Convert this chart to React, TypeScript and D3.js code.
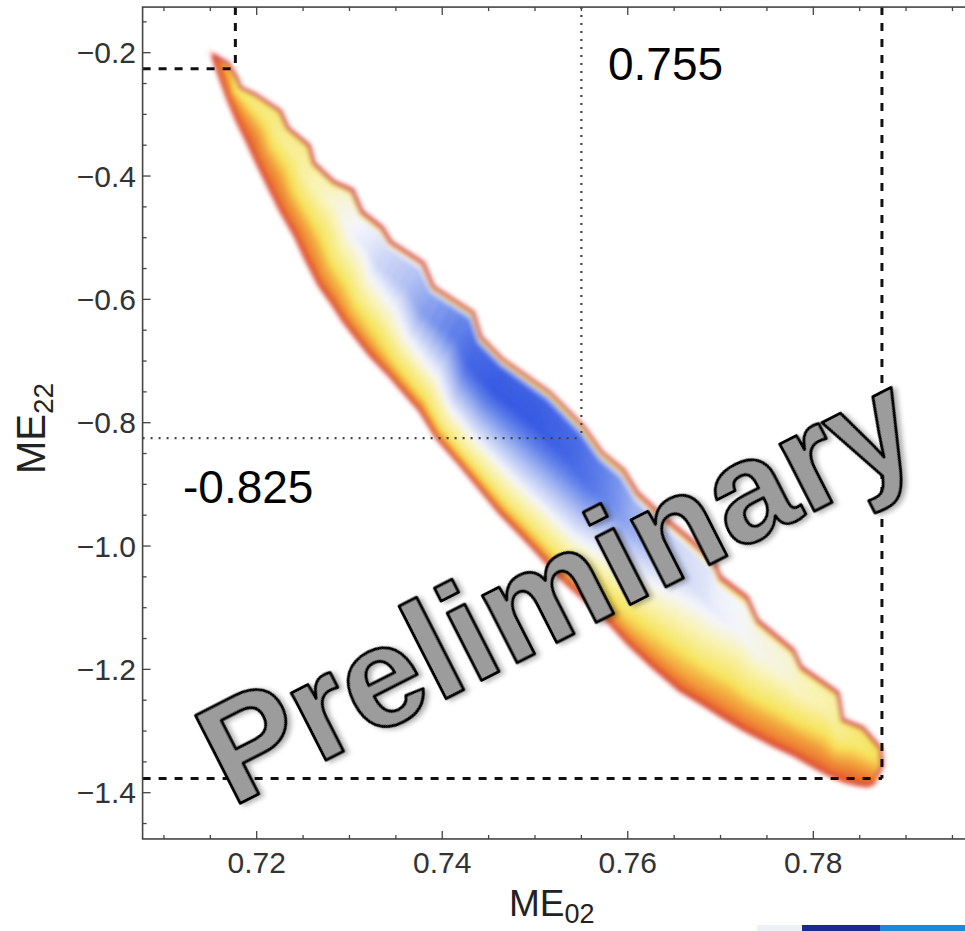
import React from "react";
import * as d3 from "d3";

const width = 965;
const height = 931;

// axis ticks
const xTicks = [0.72, 0.74, 0.76, 0.78];
const xTickLabels = ["0.72", "0.74", "0.76", "0.78"];
const yTicks = [-1.4, -1.2, -1.0, -0.8, -0.6, -0.4, -0.2];
const yTickLabels = ["−1.4", "−1.2", "−1.0", "−0.8", "−0.6", "−0.4", "−0.2"];

// allowed region: paired points on the upper and lower edge of the band
const upperME02 = [0.7153, 0.7169, 0.7178, 0.7182, 0.7199, 0.7225, 0.7233, 0.7256, 0.7261, 0.7283, 0.7303, 0.7313, 0.7335, 0.7344, 0.7379, 0.739, 0.7433, 0.7441, 0.7465, 0.7516, 0.7552, 0.7572, 0.7595, 0.761, 0.7642, 0.7664, 0.7692, 0.7699, 0.7728, 0.7739, 0.7778, 0.7786, 0.7826, 0.7831, 0.7853, 0.7872, 0.7874, 0.7868];
const upperME22 = [-0.204, -0.218, -0.241, -0.257, -0.269, -0.295, -0.322, -0.351, -0.379, -0.41, -0.423, -0.458, -0.484, -0.507, -0.541, -0.58, -0.622, -0.661, -0.698, -0.752, -0.807, -0.849, -0.877, -0.914, -0.958, -0.985, -1.023, -1.05, -1.083, -1.12, -1.169, -1.196, -1.238, -1.282, -1.295, -1.328, -1.355, -1.373];
const lowerME02 = [0.7153, 0.7156, 0.7163, 0.7169, 0.7179, 0.7191, 0.7201, 0.7214, 0.7227, 0.7242, 0.7253, 0.7268, 0.7283, 0.7295, 0.7322, 0.7344, 0.7376, 0.7395, 0.7421, 0.7462, 0.7495, 0.7527, 0.7554, 0.7578, 0.7602, 0.7629, 0.7656, 0.7678, 0.7705, 0.7726, 0.7759, 0.778, 0.7802, 0.7818, 0.7834, 0.7848, 0.7859, 0.7866];
const lowerME22 = [-0.204, -0.218, -0.248, -0.273, -0.309, -0.346, -0.379, -0.419, -0.458, -0.497, -0.533, -0.577, -0.609, -0.637, -0.689, -0.724, -0.779, -0.825, -0.87, -0.945, -0.997, -1.05, -1.087, -1.12, -1.16, -1.198, -1.233, -1.253, -1.279, -1.298, -1.324, -1.339, -1.358, -1.371, -1.381, -1.386, -1.388, -1.383];
// colour level reached across the band at each pair (0 red edge ... 1 deep blue)
const bandLevel = [0.1, 0.18, 0.24, 0.28, 0.3, 0.32, 0.34, 0.36, 0.38, 0.42, 0.46, 0.5, 0.55, 0.6, 0.68, 0.76, 0.88, 0.96, 1, 1, 0.96, 0.9, 0.82, 0.74, 0.66, 0.6, 0.56, 0.53, 0.5, 0.48, 0.45, 0.42, 0.38, 0.34, 0.3, 0.26, 0.2, 0.12];

// best fit and extent of the region
const bestME02 = 0.755;
const bestME22 = -0.825;
const bestLabels = ["0.755", "-0.825"];
const extentME02 = [0.7177, 0.7874];
const extentME22 = [-0.226, -1.377];

const x = d3.scaleLinear().domain([0.72, 0.78]).range([256.7, 813.3]);
const y = d3.scaleLinear().domain([-0.2, -1.4]).range([52.7, 792.7]);

const frameME02 = [0.7077, 0.8];
const frameME22 = [-1.475, -0.126];

// shape of the colour across the band (t = 0 lower edge, t = 1 upper edge)
const profile = d3.scaleLinear()
  .domain([0, 0.04, 0.12, 0.22, 0.32, 0.5, 0.72, 0.94, 1])
  .range([0, 0.18, 0.32, 0.42, 0.55, 0.75, 1, 0.97, 0.05])
  .clamp(true);
const color = d3.scaleLinear<string>()
  .domain([0, 0.09, 0.18, 0.26, 0.4, 0.5, 0.65, 0.85, 1])
  .range(["#d43d2a", "#ea6a2e", "#f2a23a", "#f6e35a", "#f9f3b4", "#f4f5fb", "#b9c6f4", "#6282ea", "#3558e2"])
  .interpolate(d3.interpolateRgb);

const lerp = (a: number[], b: number[], t: number) => [a[0] + (b[0] - a[0]) * t, a[1] + (b[1] - a[1]) * t];

const Band = () => {
  const U = upperME02.map((v, i) => [x(v), y(upperME22[i])]);
  const L = lowerME02.map((v, i) => [x(v), y(lowerME22[i])]);
  const nT = 32;
  const nS = 4;
  const cells: JSX.Element[] = [];
  for (let i = 0; i < U.length - 1; i++) {
    for (let k = 0; k < nS; k++) {
      const s0 = k / nS, s1 = (k + 1) / nS;
      const u0 = lerp(U[i], U[i + 1], s0), u1 = lerp(U[i], U[i + 1], s1);
      const l0 = lerp(L[i], L[i + 1], s0), l1 = lerp(L[i], L[i + 1], s1);
      const lev = bandLevel[i] + (bandLevel[i + 1] - bandLevel[i]) * (s0 + s1) / 2;
      for (let j = 0; j < nT; j++) {
        const t0 = j / nT, t1 = (j + 1) / nT;
        const pts = [lerp(l0, u0, t0), lerp(l0, u0, t1), lerp(l1, u1, t1), lerp(l1, u1, t0)];
        const fill = color(lev * profile((t0 + t1) / 2));
        cells.push(<polygon key={i + "-" + k + "-" + j} points={pts.map(p => p.join(",")).join(" ")} fill={fill} stroke={fill} strokeWidth={0.7} />);
      }
    }
  }
  const outline = d3.line()([...U, ...L.slice().reverse()]) + "Z";
  return (
    <g>
      <path d={outline} fill="none" stroke="#e0503c" strokeWidth={5} opacity={0.45} filter="url(#halo)" />
      <g filter="url(#soft)">
        {cells}
        <path d={d3.line()(U) ?? ""} fill="none" stroke="#c83a4c" strokeWidth={2.6} strokeLinejoin="round" />
        <path d={d3.line()(L) ?? ""} fill="none" stroke="#d8402c" strokeWidth={2.2} strokeLinejoin="round" />
      </g>
    </g>
  );
};

const Axes = () => {
  const x0 = x(frameME02[0]), x1 = x(frameME02[1]);
  const yTop = y(frameME22[1]), yBot = y(frameME22[0]);
  const minorX = d3.range(0.71, 0.8001, 0.005).filter(v => v > frameME02[0]);
  const minorY = d3.range(-1.45, -0.1499, 0.05);
  const isMajor = (v: number, step: number) => Math.abs(v / step - Math.round(v / step)) < 1e-6;
  return (
    <g stroke="#444" strokeWidth={1.3}>
      <rect x={x0} y={yTop} width={x1 - x0} height={yBot - yTop} fill="none" strokeWidth={1.6} />
      {minorX.map(v => {
        const len = isMajor(v, 0.02) ? 8 : 4;
        return (
          <g key={"x" + v}>
            <line x1={x(v)} x2={x(v)} y1={yBot} y2={yBot - len} />
            <line x1={x(v)} x2={x(v)} y1={yTop} y2={yTop + len} />
          </g>
        );
      })}
      {minorY.map(v => {
        const len = isMajor(v, 0.2) ? 8 : 4;
        return <line key={"y" + v} x1={x0} x2={x0 + len} y1={y(v)} y2={y(v)} />;
      })}
    </g>
  );
};

export default function App() {
  const x0 = x(frameME02[0]);
  const yTop = y(frameME22[1]);
  return (
    <svg width={width} height={height} style={{ position: "absolute", left: 0, top: 0, background: "#fff" }}
      fontFamily="'Liberation Sans', Arial, Helvetica, sans-serif">
      <defs>
        <filter id="soft" x="-5%" y="-5%" width="110%" height="110%">
          <feGaussianBlur stdDeviation={2} />
        </filter>
        <filter id="halo" x="-5%" y="-5%" width="110%" height="110%">
          <feGaussianBlur stdDeviation={2.5} />
        </filter>
        <filter id="shadow" x="-10%" y="-10%" width="130%" height="130%">
          <feDropShadow dx={3} dy={3} stdDeviation={2.5} floodColor="#000" floodOpacity={0.3} />
        </filter>
      </defs>
      <rect width={width} height={height} fill="#fff" />

      <Band />

      {/* best fit */}
      <g stroke="#444" strokeWidth={2.2} strokeDasharray="2,6">
        <line x1={x(bestME02)} x2={x(bestME02)} y1={yTop} y2={y(bestME22)} />
        <line x1={x0} x2={x(bestME02)} y1={y(bestME22)} y2={y(bestME22)} />
      </g>
      {/* extent */}
      <g stroke="#111" strokeWidth={3} strokeDasharray="8,8">
        <line x1={x(extentME02[0])} x2={x(extentME02[0])} y1={yTop} y2={y(extentME22[0])} />
        <line x1={x0} x2={x(extentME02[0])} y1={y(extentME22[0])} y2={y(extentME22[0])} />
        <line x1={x(extentME02[1])} x2={x(extentME02[1])} y1={yTop} y2={y(extentME22[1])} />
        <line x1={x0} x2={x(extentME02[1])} y1={y(extentME22[1])} y2={y(extentME22[1])} />
      </g>

      <Axes />

      <g fill="#333" fontSize={30} textAnchor="middle">
        {xTicks.map((v, i) => <text key={v} x={x(v)} y={873}>{xTickLabels[i]}</text>)}
      </g>
      <g fill="#333" fontSize={30} textAnchor="end">
        {yTicks.map((v, i) => <text key={v} x={136} y={y(v)} dy="0.35em">{yTickLabels[i]}</text>)}
      </g>

      <text x={509} y={916} fontSize={37} fill="#222">ME<tspan fontSize={27} dy={7}>02</tspan></text>
      <text transform="translate(45,474) rotate(-90)" fontSize={40} fill="#222">ME<tspan fontSize={28} dy={8}>22</tspan></text>

      <text x={608} y={80} fontSize={46} fill="#000">{bestLabels[0]}</text>
      <text x={183} y={503} fontSize={46} fill="#000">{bestLabels[1]}</text>

      {/* cut-off colour bar */}
      <rect x={757} y={925} width={45} height={6} fill="#eef0f5" />
      <rect x={802} y={925} width={78} height={6} fill="#1b2a93" />
      <rect x={880} y={925} width={85} height={6} fill="#1e88d8" />

      <text transform="translate(232,808) rotate(-27)" fontSize={143} fontWeight="bold" fill="#9c9c9c"
        stroke="#000" strokeWidth={3} strokeLinejoin="round" filter="url(#shadow)">Preliminary</text>
    </svg>
  );
}
